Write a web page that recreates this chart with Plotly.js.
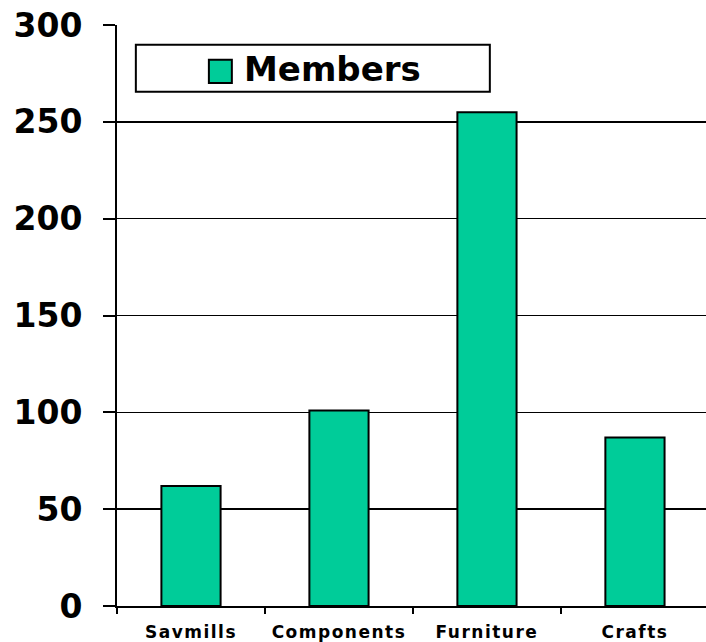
<!DOCTYPE html>
<html>
<head>
<meta charset="utf-8">
<script src="https://cdn.plot.ly/plotly-3.0.1.min.js"></script>
<style>
html,body{margin:0;padding:0;background:#fff;}
#chart{width:706px;height:642px;}
.xtick text{letter-spacing:1.5px;}
</style>
</head>
<body>
<div id="chart"></div>
<script>
const categories = ["Savmills", "Components", "Furniture", "Crafts"];
const members = [62, 101, 255, 87];
const seriesName = "Members";
const yTicks = [0, 50, 100, 150, 200, 250, 300];

const barColor = "#00CC99";
const font = "DejaVu Sans, Verdana, sans-serif";

const trace = {
  type: "bar",
  x: categories,
  y: members,
  name: seriesName,
  width: 0.4,
  marker: { color: barColor, line: { color: "#000", width: 2 } },
  showlegend: false,
  hoverinfo: "x+y"
};

const layout = {
  width: 706, height: 642,
  margin: { l: 117, r: 0, t: 25, b: 36 },
  paper_bgcolor: "#fff", plot_bgcolor: "#fff",
  font: { family: font, color: "#000" },
  showlegend: false,
  xaxis: {
    type: "category",
    range: [-0.5, 3.48],
    showline: true, linecolor: "#000", linewidth: 2,
    ticks: "outside", tickson: "boundaries", ticklen: 6, tickwidth: 2, tickcolor: "#000",
    showgrid: false, zeroline: false,
    ticklabelstandoff: 10,
    tickfont: { family: font, size: 17, color: "#000", weight: "bold" }
  },
  yaxis: {
    range: [0, 300],
    tickvals: yTicks,
    showline: true, linecolor: "#000", linewidth: 2,
    ticks: "outside", ticklen: 12, tickwidth: 2, tickcolor: "#000",
    showgrid: true, gridcolor: "#000", gridwidth: 1.5,
    zeroline: false,
    ticklabelstandoff: 14,
    tickfont: { family: font, size: 33, color: "#000", weight: "bold" }
  },
  shapes: [
    { type: "rect", xref: "paper", yref: "paper", x0: 0.032, x1: 0.633, y0: 0.885, y1: 0.966,
      line: { color: "#000", width: 2 }, fillcolor: "#fff", layer: "above" },
    { type: "rect", xref: "paper", yref: "paper", x0: 0.156, x1: 0.195, y0: 0.900, y1: 0.940,
      line: { color: "#000", width: 2 }, fillcolor: barColor, layer: "above" }
  ],
  annotations: [
    { xref: "paper", yref: "paper", x: 0.212, y: 0.924, xanchor: "left", yanchor: "middle",
      text: seriesName, showarrow: false,
      font: { family: font, size: 34, color: "#000", weight: "bold" } }
  ]
};

Plotly.newPlot("chart", [trace], layout, { displayModeBar: false, staticPlot: true });
</script>
</body>
</html>
